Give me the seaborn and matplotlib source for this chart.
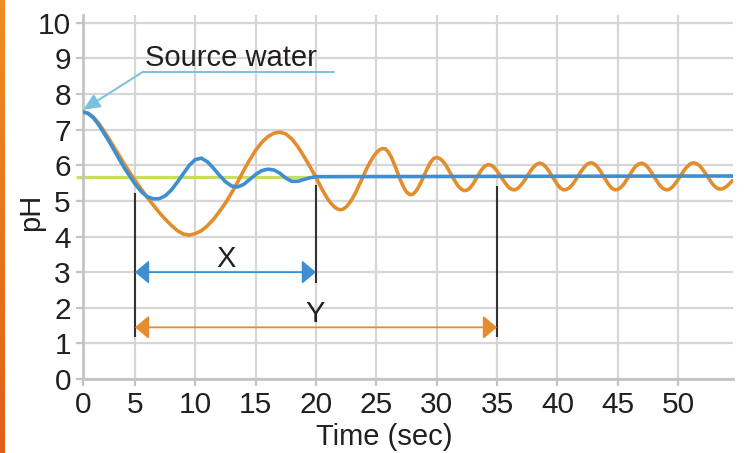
import numpy as np
import matplotlib
matplotlib.use("Agg")
import matplotlib.pyplot as plt
import seaborn as sns
from matplotlib.colors import LinearSegmentedColormap

# orange curve (long settling, "Y"): every 0.5 s up to 20 s, then every 0.25 s
slow_time = np.concatenate([np.arange(0, 20, 0.5), np.arange(20, 54.75, 0.25)])
slow_ph = [7.50, 7.46, 7.36, 7.19, 6.98, 6.75, 6.51, 6.27, 6.03, 5.80,
           5.58, 5.34, 5.11, 4.89, 4.68, 4.49, 4.32, 4.17, 4.07, 4.04,
           4.08, 4.16, 4.30, 4.48, 4.70, 4.94, 5.22, 5.52, 5.85, 6.15,
           6.42, 6.64, 6.80, 6.90, 6.93, 6.88, 6.74, 6.52, 6.25, 5.96,
           # from 20 s, 0.25 s steps
           5.66, 5.49, 5.33, 5.18, 5.04, 4.93, 4.84, 4.78,
           4.75, 4.77, 4.83, 4.93, 5.06, 5.21, 5.39, 5.57,
           5.76, 5.94, 6.10, 6.24, 6.35, 6.43, 6.47, 6.46,
           6.37, 6.22, 6.02, 5.80, 5.58, 5.39, 5.25, 5.18,
           5.18, 5.26, 5.39, 5.56, 5.75, 5.93, 6.09, 6.19,
           6.22, 6.19, 6.12, 6.01, 5.86, 5.71, 5.56, 5.43,
           5.34, 5.29, 5.30, 5.36, 5.47, 5.61, 5.76, 5.89,
           5.98, 6.02, 6.00, 5.94, 5.84, 5.72, 5.59, 5.47,
           5.37, 5.32, 5.31, 5.36, 5.45, 5.56, 5.70, 5.83,
           5.94, 6.02, 6.06, 6.04, 5.97, 5.86, 5.73, 5.59,
           5.46, 5.36, 5.31, 5.32, 5.37, 5.46, 5.58, 5.72,
           5.85, 5.96, 6.04, 6.07, 6.05, 5.98, 5.87, 5.73,
           5.59, 5.46, 5.36, 5.31, 5.32, 5.38, 5.47, 5.60,
           5.74, 5.87, 5.98, 6.04, 6.06, 6.02, 5.94, 5.82,
           5.69, 5.55, 5.43, 5.35, 5.31, 5.32, 5.38, 5.48,
           5.60, 5.73, 5.86, 5.96, 6.04, 6.07, 6.05, 6.00,
           5.90, 5.78, 5.65, 5.52, 5.42, 5.35, 5.33, 5.35,
           5.40, 5.48, 5.57]

# blue curve (short settling, "X")
fast_time = [0, 0.5, 1, 1.5, 2, 2.5, 3, 3.5, 4, 4.5, 5, 5.5, 6, 6.5, 7, 7.5,
             8, 8.5, 9, 9.5, 10, 10.5, 11, 11.5, 12, 12.5, 13, 13.5, 14, 14.5,
             15, 15.5, 16, 16.5, 17, 17.5, 18, 18.5, 19, 19.5, 20, 54.55]
fast_ph = [7.50, 7.46, 7.34, 7.15, 6.92, 6.68, 6.43, 6.17, 5.92, 5.70,
           5.48, 5.27, 5.12, 5.06, 5.06, 5.14, 5.30, 5.52, 5.76, 6.00,
           6.16, 6.20, 6.10, 5.92, 5.72, 5.54, 5.42, 5.39, 5.46, 5.60,
           5.74, 5.85, 5.89, 5.87, 5.78, 5.64, 5.55, 5.55, 5.60, 5.65,
           5.68, 5.70]

setpoint_ph = 5.68
x_ticks = list(range(0, 51, 5))
y_ticks = list(range(0, 11))

ORANGE = "#e38d2c"
BLUE = "#3d8fd1"
LIGHTBLUE = "#7cc0e0"
GREEN = "#c8de5c"
GRID = "#d6d6d6"
TEXT = "#231f20"

sns.set_style("whitegrid")
plt.rcParams["font.family"] = ["Liberation Sans", "DejaVu Sans"]

fig = plt.figure(figsize=(7.46, 4.53), dpi=100)
ax = fig.add_axes([0.1109, 0.1634, 0.8717, 0.8035])

# first 5 s are drawn a bit narrower than the rest in the original
def fwd(t):
    t = np.asarray(t, dtype=float)
    return np.where(t < 5, t * 0.865, t - 0.675)

def inv(u):
    u = np.asarray(u, dtype=float)
    return np.where(u < 4.325, u / 0.865, u + 0.675)

ax.set_xscale("function", functions=(fwd, inv))

ax.hlines(setpoint_ph, -0.6, 19.5, color=GREEN, lw=2.3, zorder=2, clip_on=False)
sns.lineplot(x=slow_time, y=slow_ph, color=ORANGE, lw=2.6, ax=ax, zorder=3)
sns.lineplot(x=fast_time, y=fast_ph, color=BLUE, lw=2.6, ax=ax, zorder=4)

# marker lines for settling times
ax.vlines(5, 1.19, 5.21, color="#333333", lw=1.5, zorder=5)
ax.vlines(20, 2.7, 5.45, color="#333333", lw=1.5, zorder=5)
ax.vlines(35, 1.19, 5.42, color="#333333", lw=1.5, zorder=5)

ax.annotate("", xy=(20, 3.0), xytext=(5, 3.0),
            arrowprops=dict(arrowstyle="<|-|>,head_length=0.86,head_width=0.72",
                            mutation_scale=10, color=BLUE, lw=1.3,
                            shrinkA=0, shrinkB=0), zorder=6)
ax.annotate("", xy=(35, 1.45), xytext=(5, 1.45),
            arrowprops=dict(arrowstyle="<|-|>,head_length=0.86,head_width=0.72",
                            mutation_scale=10, color=ORANGE, lw=1.3,
                            shrinkA=0, shrinkB=0), zorder=6)
ax.text(12.55, 3.15, "X", fontsize=21, color=TEXT, ha="center", va="baseline")
ax.text(19.9, 1.61, "Y", fontsize=21, color=TEXT, ha="center", va="baseline")

# source water callout
ax.plot([5.69, 21.5], [8.63, 8.63], color=LIGHTBLUE, lw=1.4, zorder=6)
ax.annotate("", xy=(0.05, 7.56), xytext=(5.69, 8.63),
            arrowprops=dict(arrowstyle="-|>,head_length=1.0,head_width=0.45",
                            mutation_scale=10, color=LIGHTBLUE, lw=1.4,
                            shrinkA=0, shrinkB=0), zorder=6)
ax.text(5.83, 8.79, "Source water", fontsize=21, color=TEXT, ha="left", va="baseline")

ax.set_xlim(0, 54.55)
ax.set_ylim(0, 10.22)
ax.set_xticks(x_ticks)
ax.set_yticks(y_ticks)
ax.set_xticklabels([str(v) for v in x_ticks])
ax.grid(True, color=GRID, lw=1.6)
ax.set_axisbelow(True)
for side in ["top", "right"]:
    ax.spines[side].set_visible(False)
for side in ["left", "bottom"]:
    ax.spines[side].set_color("#c4c4c4")
    ax.spines[side].set_linewidth(2)
ax.tick_params(axis="both", length=5, width=1.6, color="#c4c4c4",
               labelsize=21.5, labelcolor=TEXT, pad=3.5, left=True, bottom=True)

ax.set_xlabel("Time (sec)", fontsize=21, color=TEXT)
ax.xaxis.set_label_coords(0.463, -0.121)
ax.set_ylabel("pH", fontsize=21, color=TEXT)
ax.yaxis.set_label_coords(-0.058, 0.459)

# orange strip down the left edge
strip = fig.add_axes([0, 0, 5 / 746, 1])
strip.imshow(np.linspace(0, 1, 100).reshape(-1, 1), aspect="auto",
             cmap=LinearSegmentedColormap.from_list("strip", ["#ef8d22", "#e0601a"]))
strip.axis("off")

fig.savefig("out.png", dpi=100)
